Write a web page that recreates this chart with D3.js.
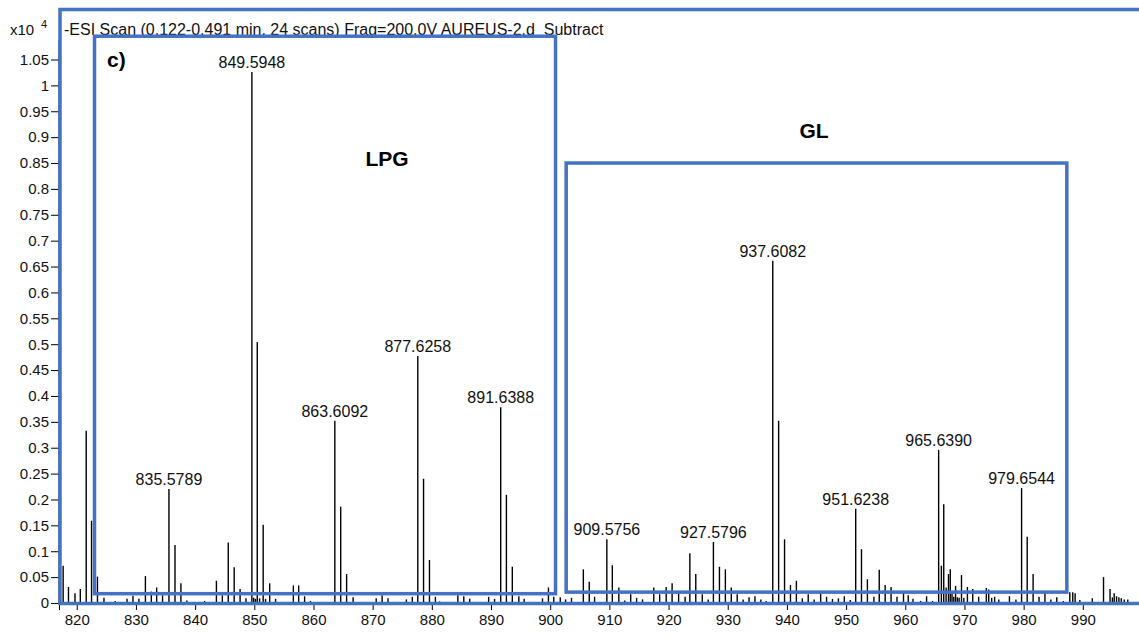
<!DOCTYPE html>
<html>
<head>
<meta charset="utf-8">
<script src="https://cdn.jsdelivr.net/npm/d3@7"></script>
<style>
  html, body { margin: 0; padding: 0; background: #fff; }
  svg { display: block; font-family: 'Liberation Sans', Arial, sans-serif; }
  .axis text { font-size: 15px; fill: #111; }
  .axis path, .axis line { stroke: #000; }
  .peak-label { font-size: 16px; fill: #111; text-anchor: middle; }
  .box { fill: none; stroke: #4472c4; stroke-width: 3.5; }
  .tag { font-weight: bold; fill: #000; }
</style>
</head>
<body>
<div id="chart"></div>
<script>
// m/z of every stick in the spectrum and its abundance (x10^4 counts)
const peakMz = [
  817.7, 818.6, 819.7, 820.6, 821.6, 822.5, 823.5, 824.6, 826.5, 828.5,
  829.5, 830.5, 831.6, 832.6, 833.5, 834.5, 835.5789, 836.6, 837.6, 838.6,
  841.6, 843.6, 844.6, 845.6, 846.6, 847.6, 848.6, 849.5948, 849.9, 850.2,
  850.5, 850.9, 851.5, 851.9, 852.6, 853.6, 856.6, 857.5, 858.5, 859.5,
  863.6092, 864.6, 865.6, 866.7, 870.6, 871.6, 872.6, 875.7, 876.7, 877.6258,
  878.6, 879.6, 880.6, 881.3, 884.4, 885.4, 886.4, 889.6, 890.6, 891.6388,
  892.6, 893.6, 894.7, 895.6, 898.7, 899.7, 900.6, 901.7, 902.6, 903.6,
  905.6, 906.6, 907.5, 909.5756, 910.5, 911.6, 912.6, 913.6, 914.6, 915.6,
  917.5, 918.5, 919.6, 920.6, 921.7, 922.8, 923.6, 924.6, 925.7, 926.7,
  927.5796, 928.6, 929.6, 930.6, 931.6, 932.6, 933.6, 934.6, 935.6, 936.5,
  937.6082, 938.6, 939.6, 940.6, 941.6, 942.6, 943.6, 944.6, 945.7, 946.7,
  947.7, 948.7, 949.7, 950.7, 951.6238, 952.6, 953.6, 954.7, 955.6, 956.6,
  957.6, 958.6, 959.7, 960.5, 961.3, 962.6, 963.6, 964.6, 965.639, 966.1,
  966.5, 966.9, 967.3, 967.6, 967.9, 968.2, 968.5, 968.8, 969.1, 969.5,
  969.9, 970.5, 971.4, 972.4, 973.7, 974.1, 974.6, 975.1, 975.8, 977.6,
  978.7, 979.6544, 980.6, 981.6, 982.6, 983.6, 984.6, 985.6, 986.7, 987.8,
  988.3, 988.7, 989.5, 991.6, 993.5, 994.6, 995.0, 995.3, 995.7, 996.1,
  996.5, 997.0, 997.6
]
const peakIntensity = [
  0.072, 0.031, 0.019, 0.027, 0.333, 0.159, 0.051, 0.010, 0.004, 0.008,
  0.014, 0.008, 0.052, 0.022, 0.030, 0.015, 0.220, 0.112, 0.038, 0.005,
  0.004, 0.043, 0.015, 0.117, 0.069, 0.027, 0.009, 1.026, 0.010, 0.008,
  0.504, 0.009, 0.151, 0.008, 0.038, 0.008, 0.034, 0.034, 0.013, 0.004,
  0.352, 0.186, 0.056, 0.011, 0.009, 0.015, 0.009, 0.007, 0.012, 0.477,
  0.240, 0.083, 0.012, 0.003, 0.015, 0.013, 0.008, 0.012, 0.008, 0.378,
  0.209, 0.070, 0.013, 0.008, 0.009, 0.030, 0.012, 0.011, 0.007, 0.010,
  0.065, 0.041, 0.012, 0.123, 0.073, 0.030, 0.005, 0.017, 0.010, 0.007,
  0.030, 0.017, 0.031, 0.038, 0.019, 0.012, 0.096, 0.056, 0.017, 0.007,
  0.118, 0.070, 0.065, 0.030, 0.017, 0.007, 0.011, 0.013, 0.007, 0.004,
  0.661, 0.352, 0.123, 0.035, 0.043, 0.009, 0.017, 0.007, 0.019, 0.012,
  0.008, 0.009, 0.013, 0.006, 0.182, 0.104, 0.046, 0.012, 0.064, 0.035,
  0.031, 0.012, 0.019, 0.015, 0.008, 0.004, 0.013, 0.004, 0.296, 0.072,
  0.191, 0.030, 0.056, 0.065, 0.019, 0.012, 0.033, 0.011, 0.010, 0.054,
  0.010, 0.031, 0.027, 0.012, 0.029, 0.026, 0.010, 0.012, 0.007, 0.013,
  0.007, 0.222, 0.128, 0.056, 0.012, 0.020, 0.007, 0.011, 0.004, 0.021,
  0.021, 0.019, 0.006, 0.009, 0.050, 0.027, 0.011, 0.019, 0.013, 0.011,
  0.009, 0.007, 0.007
]

// annotated peaks
const labelMz = [835.5789, 849.5948, 863.6092, 877.6258, 891.6388, 909.5756, 927.5796, 937.6082, 951.6238, 965.639, 979.6544]
const labelText = ['835.5789', '849.5948', '863.6092', '877.6258', '891.6388', '909.5756', '927.5796', '937.6082', '951.6238', '965.6390', '979.6544']

const xTicks = [820, 830, 840, 850, 860, 870, 880, 890, 900, 910, 920, 930, 940, 950, 960, 970, 980, 990]
const yTicks = [0, 0.05, 0.1, 0.15, 0.2, 0.25, 0.3, 0.35, 0.4, 0.45, 0.5, 0.55, 0.6, 0.65, 0.7, 0.75, 0.8, 0.85, 0.9, 0.95, 1, 1.05]
const yTickLabels = ['0', '0.05', '0.1', '0.15', '0.2', '0.25', '0.3', '0.35', '0.4', '0.45', '0.5', '0.55', '0.6', '0.65', '0.7', '0.75', '0.8', '0.85', '0.9', '0.95', '1', '1.05']

const titleText = '-ESI Scan (0.122-0.491 min, 24 scans) Frag=200.0V AUREUS-2.d  Subtract'

// highlighted regions, in data units
const regionBoxes = [
  { name: 'LPG', mz: [823.0, 900.9], top: 1.095, bottom: 0.018 },
  { name: 'GL', mz: [902.7, 987.3], top: 0.85, bottom: 0.021 },
]

const width = 1139
const height = 637
const margin = { top: 59.5, left: 59, bottom: 34 }

const svg = d3.select('#chart').append('svg').attr('width', width).attr('height', height)

const x = d3.scaleLinear().domain([817, 999.5]).range([margin.left, margin.left + 182.5 * 5.918])
const y = d3.scaleLinear().domain([0, 1.05]).range([height - margin.bottom, margin.top])

const peaks = peakMz.map((mz, i) => ({ mz, v: peakIntensity[i] }))

// sticks
svg.append('g')
  .selectAll('line')
  .data(peaks)
  .join('line')
  .attr('x1', (d) => x(d.mz))
  .attr('x2', (d) => x(d.mz))
  .attr('y1', y(0))
  .attr('y2', (d) => y(d.v))
  .attr('stroke', '#000')
  .attr('stroke-width', 1.4)

// axes
const yAxisG = svg.append('g')
  .attr('class', 'axis')
  .attr('transform', `translate(${margin.left},0)`)
  .call(d3.axisLeft(y).tickValues(yTicks).tickFormat((d, i) => yTickLabels[i]).tickSize(8).tickPadding(2))
yAxisG.select('.domain').attr('d', `M0,${y(0)}V40`)

svg.append('g')
  .attr('class', 'axis')
  .attr('transform', `translate(0,${y(0)})`)
  .call(d3.axisBottom(x).tickValues(xTicks).tickFormat(d3.format('d')).tickSize(7).tickPadding(4))

// peak annotations
const byMz = new Map(peaks.map((p) => [p.mz, p.v]))
svg.append('g')
  .selectAll('text')
  .data(labelMz)
  .join('text')
  .attr('class', 'peak-label')
  .attr('x', (d) => x(d))
  .attr('y', (d) => y(byMz.get(d)) - 4)
  .text((d, i) => labelText[i])

// header
svg.append('text').attr('x', 10).attr('y', 35).style('font-size', '15px').attr('fill', '#111').text('x10')
svg.append('text').attr('x', 41).attr('y', 28).style('font-size', '11px').attr('fill', '#111').text('4')
svg.append('text')
  .attr('x', 64)
  .attr('y', 35)
  .style('font-size', '16px')
  .style('white-space', 'pre')
  .attr('fill', '#111')
  .text(titleText)

// outline round the whole plot
svg.append('rect')
  .attr('class', 'box')
  .attr('x', 60)
  .attr('y', 9.5)
  .attr('width', 1100)
  .attr('height', y(0) + 0.5 - 9.5)

regionBoxes.forEach((b) => {
  svg.append('rect')
    .attr('class', 'box')
    .attr('x', x(b.mz[0]))
    .attr('y', y(b.top))
    .attr('width', x(b.mz[1]) - x(b.mz[0]))
    .attr('height', y(b.bottom) - y(b.top))
})

svg.append('text').attr('class', 'tag').attr('x', 107).attr('y', 67).style('font-size', '21px').text('c)')
svg.append('text').attr('class', 'tag').attr('x', 387).attr('y', 166).attr('text-anchor', 'middle').style('font-size', '21px').text('LPG')
svg.append('text').attr('class', 'tag').attr('x', 814).attr('y', 138).attr('text-anchor', 'middle').style('font-size', '21px').text('GL')
</script>
</body>
</html>
